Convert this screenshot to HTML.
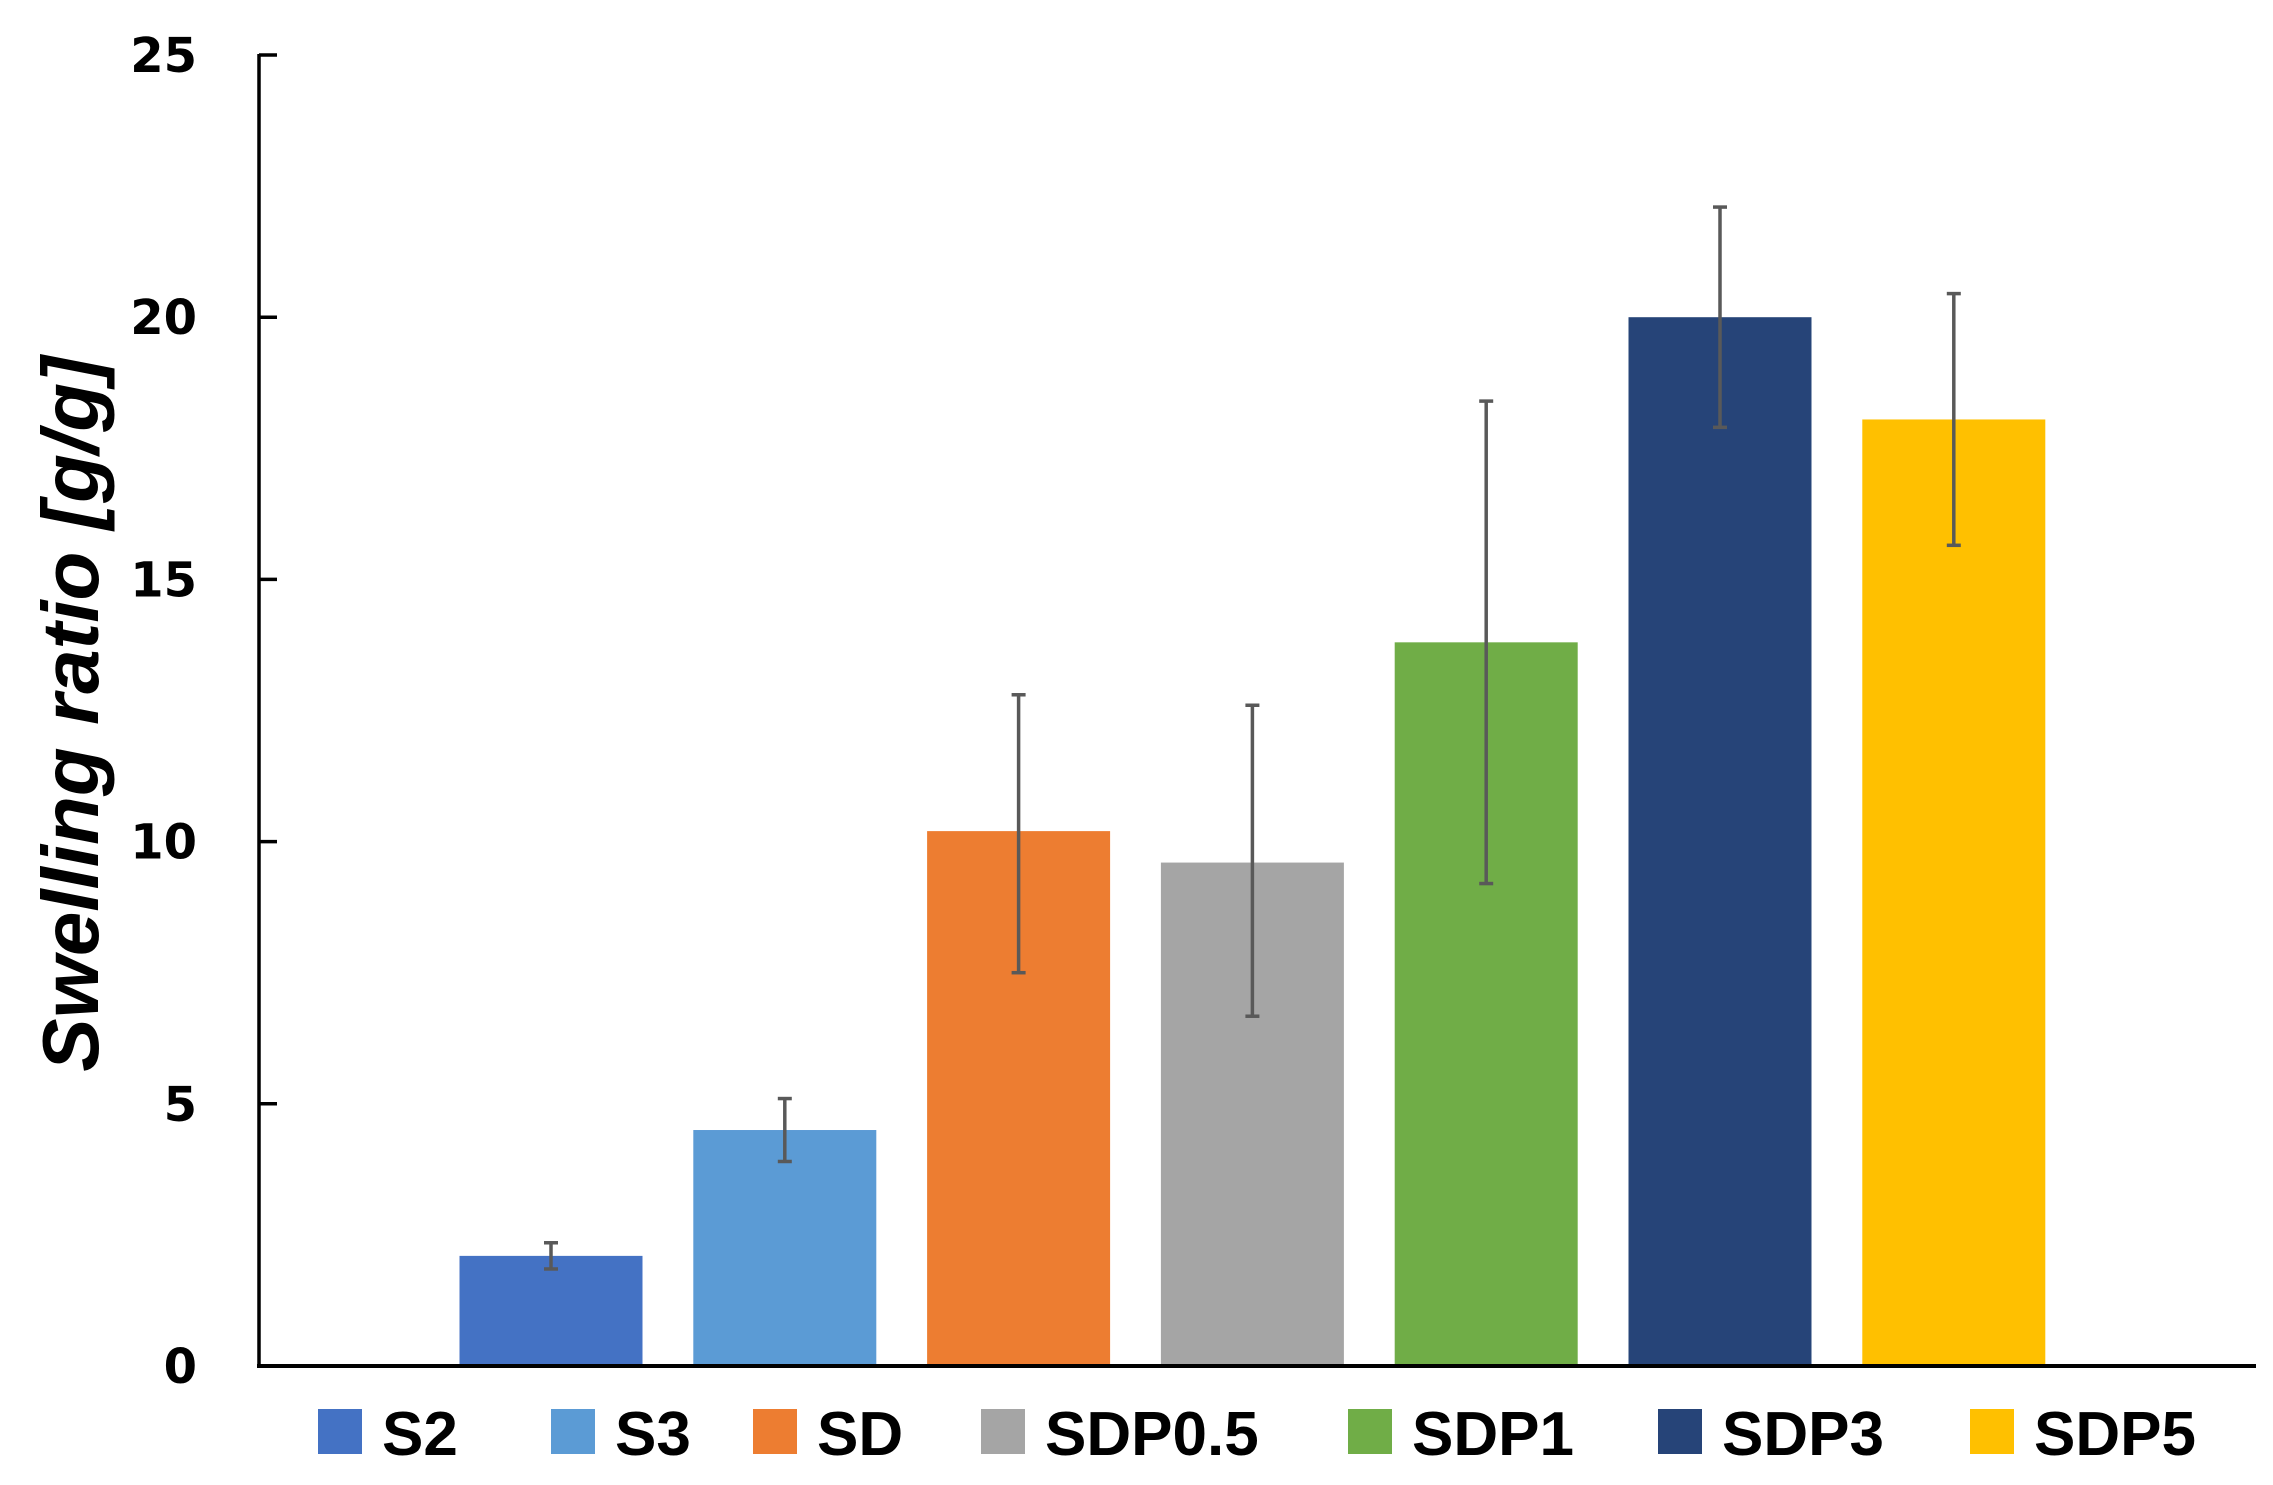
<!DOCTYPE html>
<html><head><meta charset="utf-8"><style>
html,body{margin:0;padding:0;background:#fff;}
svg{display:block;}
</style></head><body>
<svg id="chart" width="2273" height="1485" xmlns="http://www.w3.org/2000/svg" font-family="'Liberation Sans', sans-serif">
<g id="bars"></g>
<g id="errs"></g>
<g id="axes"></g>
<g id="legend"></g>
<text transform="translate(98,714) rotate(-90)" text-anchor="middle" font-size="80" font-style="italic" font-weight="bold" fill="#000">Swelling ratio [g/g]</text>
</svg>
<script>
const categories = ["S2","S3","SD","SDP0.5","SDP1","SDP3","SDP5"];
const values = [2.1,4.5,10.2,9.6,13.8,20.0,18.05];
const errUpper = [2.35,5.1,12.8,12.6,18.4,22.1,20.45];
const errLower = [1.85,3.9,7.5,6.67,9.2,17.9,15.65];
const colors = ["#4472C4","#5B9BD5","#ED7D31","#A5A5A5","#70AD47","#264478","#FFC000"];
const yTicks = [0,5,10,15,20,25];

const NS="http://www.w3.org/2000/svg";
const y0=1366, y25=55, yMax=25;
const yScale=v=>y0-(y0-y25)*v/yMax;
const xCenter=i=>551+233.8*i;
const bw=183;
function mk(tag,attrs,parent){const e=document.createElementNS(NS,tag);for(const k in attrs)e.setAttribute(k,attrs[k]);parent.appendChild(e);return e;}
const gb=document.getElementById('bars'),ge=document.getElementById('errs'),ga=document.getElementById('axes'),gl=document.getElementById('legend');
categories.forEach((c,i)=>{
  const r=mk('rect',{x:xCenter(i)-bw/2,y:yScale(values[i]),width:bw,height:y0-yScale(values[i]),fill:colors[i]},gb);
  
  
  const g=mk('g',{stroke:'#595959','stroke-width':3.5},ge);
  
  
  const cx=xCenter(i),yu=yScale(errUpper[i]),yl=yScale(errLower[i]);
  mk('line',{x1:cx,x2:cx,y1:yu,y2:yl},g);
  mk('line',{x1:cx-7,x2:cx+7,y1:yu,y2:yu},g);
  mk('line',{x1:cx-7,x2:cx+7,y1:yl,y2:yl},g);
});
mk('line',{x1:259,x2:259,y1:y25-1,y2:y0+2,stroke:'#000','stroke-width':3.5},ga);
mk('line',{x1:257,x2:2256,y1:y0,y2:y0,stroke:'#000','stroke-width':4},ga);
yTicks.forEach(t=>{
  const y=yScale(t);
  mk('line',{x1:259,x2:277,y1:y,y2:y,stroke:'#000','stroke-width':3.5},ga);
  const tx=mk('text',{x:197,y:y+17,'text-anchor':'end','font-size':48,'font-weight':'bold',fill:'#000','font-family':"'DejaVu Sans', sans-serif"},ga);
  tx.textContent=t;
  
  
});
const legSq=[318,551,753,981,1348,1658,1970];
categories.forEach((c,i)=>{
  const g=mk('g',{},gl);
  
  
  mk('rect',{x:legSq[i],y:1409,width:44,height:45,fill:colors[i]},g);
  const t=mk('text',{x:legSq[i]+64,y:1455,'font-size':62,'font-weight':'bold',fill:'#000'},g);
  t.textContent=c;
});
</script>
</body></html>
